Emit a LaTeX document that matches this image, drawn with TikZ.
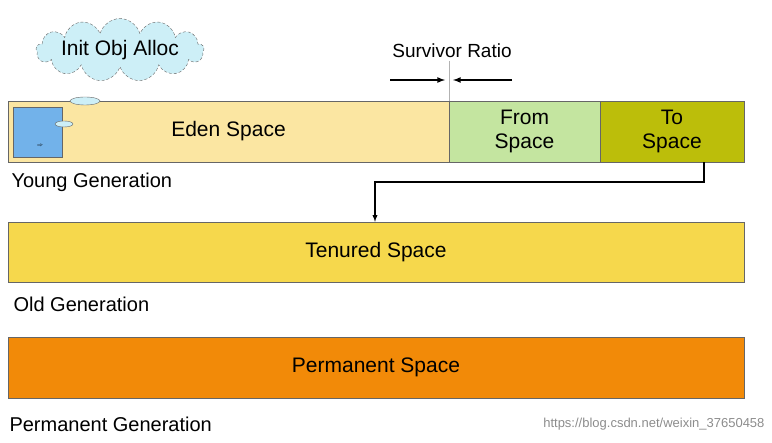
\documentclass[tikz,border=0pt]{standalone}
\usepackage{fontspec}
\setmainfont{Liberation Sans}
\usetikzlibrary{shapes,arrows,positioning,calc}
\definecolor{edenc}{HTML}{FBE6A2}
\definecolor{fromc}{HTML}{C4E5A0}
\definecolor{toc}{HTML}{BCBE0A}
\definecolor{tenc}{HTML}{F6D84C}
\definecolor{permc}{HTML}{F28A08}
\definecolor{objc}{HTML}{72B2EA}
\definecolor{cloudc}{HTML}{CDEFF7}
\begin{document}
\begin{tikzpicture}[
    x=1pt, y=-1pt,
    space/.style={rectangle, draw=black!60, inner sep=0pt, font=\fontsize{21}{24}\selectfont, align=center},
    gen/.style={anchor=west, font=\fontsize{20}{23}\selectfont},
    arrow/.style={-latex, line width=1.6pt}
]
\useasboundingbox (0,0) rectangle (772,443);

% Young generation
\node[space, fill=edenc, minimum width=441, minimum height=61] (eden) at (228.5,131.5) {Eden Space};
\node[space, fill=fromc, minimum width=151, minimum height=61] (from) at (524.5,131.5) {From\\Space};
\node[space, fill=toc, minimum width=144, minimum height=61] (to) at (672,131.5) {To\\Space};
\node[space, fill=objc, minimum width=49, minimum height=50] (obj) at (37.5,132) {};
\node[font=\tiny] at (40,146) {$\Rightarrow$};
\node[ellipse, draw=black!60, fill=cloudc, minimum width=30, minimum height=8, inner sep=0pt] (bub1) at (85,101) {};
\node[ellipse, draw=black!60, fill=cloudc, minimum width=18, minimum height=6, inner sep=0pt] (bub2) at (64,124) {};
\node[cloud, cloud puffs=13, draw=black!60, densely dashed, fill=cloudc, aspect=5, inner xsep=0pt, inner ysep=-3pt, font=\fontsize{21}{24}\selectfont] (alloc) at (120,50) {Init Obj Alloc};
\node[gen] (young) at (8,182) {Young Generation};

% Survivor ratio
\node[font=\fontsize{19}{22}\selectfont] (ratio) at (452,51) {Survivor Ratio};
\draw[black!30] (eden.north east) ++(0,-40) coordinate (rtop) -- (eden.north east);
\coordinate (la) at (390,80);
\coordinate (ra) at (512,80);
\draw[arrow] (la) -- (445,80);
\draw[arrow] (ra) -- (453,80);

% Old generation
\node[space, fill=tenc, minimum width=736, minimum height=60] (tenured) at (376,252) {Tenured Space};
\node[gen] (old) at (10,304) {Old Generation};
\draw[arrow, line width=1.3pt] (to.south -| 704,0) |- (375,182) -- (tenured.north -| 375,0);

% Permanent generation
\node[space, fill=permc, minimum width=736, minimum height=61] (perm) at (376,367.5) {Permanent Space};
\node[gen] (permgen) at (6,424) {Permanent Generation};
\node[anchor=east, text=black!45, font=\fontsize{13}{15}\selectfont] (mark) at (768,424) {https://blog.csdn.net/weixin\_37650458};
\end{tikzpicture}
\end{document}
